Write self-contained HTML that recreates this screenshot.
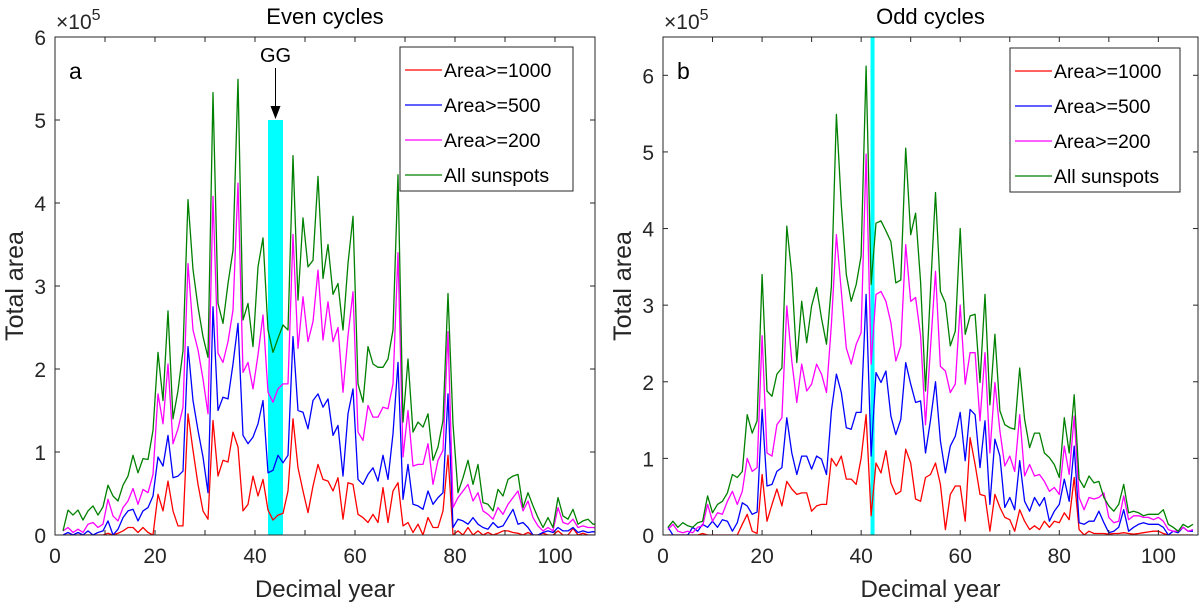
<!DOCTYPE html>
<html><head><meta charset="utf-8"><style>
html,body{margin:0;padding:0;background:#fff;}
svg{display:block;font-family:"Liberation Sans",Arial,sans-serif;}
</style></head><body>
<svg id="chart" width="1200" height="612" viewBox="0 0 1200 612" xmlns="http://www.w3.org/2000/svg"></svg>
<script>
// ---- data (units of 1e5) ----
const xTicks = [0,20,40,60,80,100];
const yTicksEven = [0,1,2,3,4,5,6];
const yTicksOdd = [0,1,2,3,4,5,6];
const seriesNames = ["Area>=1000","Area>=500","Area>=200","All sunspots"];
const seriesColors = ["#ff0000","#0000ff","#ff00ff","#008000"];
const evenStartYear = 1.6;
const oddStartYear = 1;
const evenRed = [0,0,0,0,0,0,0,0,0,0.02, 0,0.02,0.05,0.09,0.09,0.03,0.09,0.03,0,0.49, 0.29,0.65,0.29,0.11,0.11,1.46,1.02,0.61,0.29,0.19, 1.38,0.71,0.9,0.88,1.24,1.06,0.29,0.37,0.71,0.47, 0.67,0.3,0.18,0.24,0.26,0.53,1.4,0.81,0.53,0.27, 0.59,0.85,0.67,0.65,0.53,0.69,0.19,0.63,0.61,0.25, 0.21,0.15,0.25,0.15,0.57,0.15,0.53,0.63,0.11,0.15, 0.03,0.13,0,0.21,0.09,0.09,0.29,0.96,0,0.05, 0,0.09,0,0.05,0,0.03,0,0.02,0.05,0.05, 0.03,0.02,0,0.03,0,0,0.02,0,0,0.05, 0,0,0.08,0,0.02,0,0,0];
const evenBlue = [0,0.03,0,0.03,0,0.05,0,0.03,0.05,0.17, 0,0.07,0.21,0.29,0.31,0.17,0.29,0.33,0.47,0.94, 0.83,1.2,0.69,0.71,0.77,2.27,1.62,1.26,0.94,0.51, 2.75,1.5,1.66,1.64,2.06,2.55,1.2,1.1,1.18,1.34, 1.62,0.75,0.78,0.96,0.87,0.96,2.39,1.5,1.48,1.28, 1.62,1.7,1.54,1.64,1.2,1.32,0.71,1.46,1.76,0.67, 0.61,0.73,0.81,0.65,0.96,0.67,1.22,2.08,0.43,0.85, 0.37,0.35,0.31,0.53,0.37,0.45,0.51,1.7,0.09,0.19, 0.17,0.13,0.21,0.13,0.09,0.07,0.15,0.09,0.11,0.21, 0.31,0.13,0.15,0.09,0,0,0.03,0.05,0.03,0.09, 0.05,0.05,0.09,0.03,0.05,0.03,0.04,0.03];
const evenMagenta = [0.05,0.09,0.03,0.07,0.03,0.13,0.15,0.09,0.13,0.43, 0.23,0.17,0.33,0.41,0.56,0.37,0.55,0.51,0.73,1.7, 1.34,2.06,1.1,1.28,1.54,3.27,2.47,2.23,1.88,1.46, 4.08,2.19,2.08,2.33,2.71,4.24,1.96,2.08,1.76,2.17, 2.65,1.72,1.6,1.76,1.82,1.82,3.62,2.25,2.87,2.33, 2.57,3.19,2.35,2.81,2.33,2.5,1.72,2.4,2.93,1.24, 1.14,1.56,1.42,1.42,1.54,1.52,1.82,3.4,0.94,1.5, 0.83,0.85,0.85,1.1,0.61,0.9,1.02,2.45,0.33,0.45, 0.53,0.61,0.41,0.51,0.29,0.25,0.19,0.33,0.25,0.37, 0.45,0.53,0.29,0.41,0.21,0.11,0.05,0.09,0.05,0.33, 0.15,0.13,0.19,0.09,0.11,0.09,0.09,0.08];
const evenGreen = [0.05,0.3,0.24,0.3,0.18,0.29,0.35,0.24,0.34,0.6, 0.47,0.41,0.6,0.71,0.96,0.75,0.92,0.91,1.26,2.2, 1.62,2.7,1.4,1.74,2.22,4.04,3.2,2.75,2.39,2.14, 5.33,2.79,2.55,3.03,3.43,5.49,2.59,2.79,2.27,3.23, 3.58,2.47,2.2,2.37,2.53,2.47,4.57,2.83,3.82,3.23, 3.31,4.32,3.09,3.5,2.9,3.03,2.47,3.27,3.84,1.82, 1.6,2.27,2.06,2.02,2.02,2.12,2.47,4.34,1.36,2.12, 1.24,1.36,1.3,1.46,0.9,1.06,1.38,2.91,1.34,0.51, 0.69,0.9,0.61,0.85,0.39,0.37,0.29,0.55,0.47,0.67, 0.71,0.73,0.33,0.51,0.35,0.21,0.09,0.21,0.09,0.45, 0.23,0.19,0.31,0.13,0.17,0.19,0.13,0.13];
const oddRed = [0,0,0,0,0,0,0,0.02,0,0, 0,0,0,0,0,0.14,0.27,0.05,0.02,0.79, 0.18,0.4,0.6,0.38,0.7,0.6,0.53,0.55,0.55,0.31, 0.38,0.4,0.4,1.0,0.9,1.03,0.73,0.73,0.66,1.0, 1.57,0.25,0.94,0.81,1.1,0.68,0.53,0.57,1.12,0.94, 0.47,0.44,0.75,0.79,0.94,0.66,0.07,0.53,0.64,0.64, 0.18,1.27,0.92,0.53,0.51,0.05,0.53,0.36,0.23,0.2, 0.05,0.33,0.18,0.07,0.12,0.07,0.18,0.1,0.18,0.16, 0.29,0.2,0.75,0.07,0,0.05,0.02,0.02,0.02,0.01, 0.02,0.02,0.03,0.02,0.01,0.02,0.03,0.04,0.05,0.05, 0.02,0,0,0,0,0,0];
const oddBlue = [0.1,0,0,0,0,0.1,0.05,0.14,0.1,0.18, 0.1,0.2,0.18,0.05,0.16,0.42,0.38,0.27,0.3,1.64, 0.64,0.66,0.83,0.88,1.53,1.07,0.79,1.03,1.03,0.86, 1.03,0.99,0.79,1.62,2.1,1.86,1.4,1.38,1.6,1.6, 3.14,1.03,2.12,1.99,2.14,1.55,1.31,1.51,2.25,1.97, 1.73,1.75,1.07,1.5,2.0,1.23,0.81,1.16,1.29,1.6, 0.97,1.64,1.57,0.88,1.49,0.4,1.25,1.03,0.36,0.49, 0.33,0.97,0.44,0.31,0.49,0.38,0.49,0.18,0.31,0.4, 0.73,0.44,1.16,0.16,0.14,0.18,0.18,0.31,0.16,0.03, 0.05,0.1,0.33,0.05,0.1,0.14,0.16,0.14,0.14,0.14, 0.1,0,0.05,0.03,0.1,0.05,0.05];
const oddMagenta = [0.07,0.14,0.05,0.03,0.05,0.03,0.1,0.12,0.4,0.18, 0.29,0.27,0.44,0.57,0.4,0.57,1.0,0.83,0.88,2.6, 1.07,1.03,1.44,1.53,2.99,2.27,1.73,2.23,1.88,1.97, 2.23,2.1,1.86,2.75,3.92,3.18,2.44,2.23,2.49,2.64, 4.97,2.23,3.14,3.18,3.05,2.77,2.27,2.47,3.79,3.05, 3.1,2.6,1.44,2.44,3.44,2.2,2.14,1.86,1.97,3.0, 1.97,2.38,2.38,1.49,2.38,1.07,1.99,1.36,0.9,1.03, 0.83,1.57,0.77,0.92,0.77,0.79,0.7,0.57,0.62,0.53, 1.16,0.79,1.55,0.49,0.33,0.49,0.47,0.49,0.55,0.23, 0.16,0.18,0.51,0.2,0.25,0.25,0.23,0.23,0.2,0.23, 0.18,0.07,0.05,0.05,0.1,0.05,0.07];
const oddGreen = [0.1,0.18,0.1,0.16,0.12,0.1,0.16,0.18,0.51,0.29, 0.4,0.44,0.55,0.79,0.75,0.83,1.57,1.33,1.49,3.4, 1.88,1.81,2.1,2.18,4.03,3.4,2.25,3.05,2.51,2.99, 3.23,2.83,2.49,3.25,5.49,4.31,3.4,3.05,3.27,3.64, 6.12,3.27,4.07,4.1,3.97,3.83,3.29,3.33,5.05,3.92, 4.2,3.3,1.88,3.2,4.47,3.18,3.03,2.47,2.66,4.0, 2.62,2.86,2.88,1.99,3.14,1.7,2.62,1.62,1.44,1.4, 1.38,2.18,1.51,1.14,1.33,1.33,1.07,1.01,0.92,0.75, 1.53,1.07,1.83,0.73,0.62,0.77,0.68,0.7,0.49,0.38, 0.31,0.4,0.66,0.29,0.31,0.29,0.25,0.27,0.27,0.27, 0.33,0.14,0.1,0.05,0.14,0.1,0.14];
const ggBand = [42.6, 45.6, 5.0];
const oddMarkYear = 42.3;

const NS = "http://www.w3.org/2000/svg";
const svg = document.getElementById("chart");
function mk(tag, attrs, parent){ const e=document.createElementNS(NS,tag); for(const k in attrs) e.setAttribute(k,attrs[k]); (parent||svg).appendChild(e); return e; }

function panel(p){
  const g = mk("g",{});
  
  
  const X = v => p.x0 + v * (p.x1 - p.x0) / 108;
  const Y = v => p.y0 - v * (p.y0 - p.y1) / p.ymax;
  const clipId = p.id+"-clip";
  const defs = mk("defs",{},g);
  const cp = mk("clipPath",{id:clipId},defs);
  mk("rect",{x:p.x0,y:p.y1,width:p.x1-p.x0,height:p.y0-p.y1},cp);
  const plot = mk("g",{"clip-path":"url(#"+clipId+")"},g);
  if(p.band){
    const r = mk("rect",{x:X(p.band[0]),y:Y(p.band[2]),width:X(p.band[1])-X(p.band[0]),height:Y(0)-Y(p.band[2]),fill:"#00ffff"},plot);
    
    
  }
  if(p.mark!==undefined){
    const r = mk("rect",{x:X(p.mark)-2,y:p.y1,width:4,height:p.y0-p.y1,fill:"#00ffff"},plot);
    
    
  }
  p.series.forEach((arr,si)=>{
    const pts = arr.map((v,i)=>X(p.start+i).toFixed(1)+","+Y(v).toFixed(1)).join(" ");
    const pl = mk("polyline",{points:pts,fill:"none",stroke:seriesColors[si],"stroke-width":1.3,"stroke-linejoin":"round"},plot);
    
    
  });
  const fr = mk("rect",{x:p.x0,y:p.y1,width:p.x1-p.x0,height:p.y0-p.y1,fill:"none",stroke:"#262626","stroke-width":1},g);
  
  
  for(let t=10;t<=100;t+=10){
    mk("line",{x1:X(t),x2:X(t),y1:p.y0,y2:p.y0-5,stroke:"#262626"},g);
    mk("line",{x1:X(t),x2:X(t),y1:p.y1,y2:p.y1+5,stroke:"#262626"},g);
  }
  xTicks.forEach(t=>{
    const tx = mk("text",{x:X(t),y:p.y0+28,"font-size":21,"text-anchor":"middle",fill:"#262626"},g);
    tx.textContent = t;
    
    
  });
  p.yTicks.forEach(t=>{
    if(t>0){
      mk("line",{x1:p.x0,x2:p.x0+5,y1:Y(t),y2:Y(t),stroke:"#262626"},g);
      mk("line",{x1:p.x1,x2:p.x1-5,y1:Y(t),y2:Y(t),stroke:"#262626"},g);
    }
    const ty = mk("text",{x:p.x0-9,y:Y(t)+8,"font-size":21,"text-anchor":"end",fill:"#262626"},g);
    ty.textContent = t;
    
    
  });
  const ex = mk("text",{x:p.x0+1,y:p.y1-8,"font-size":21,fill:"#262626"},g);
  ex.innerHTML = '×10<tspan dy="-9" font-size="16">5</tspan>';
  
  
  const ti = mk("text",{x:(p.x0+p.x1)/2,y:24,"font-size":22,"text-anchor":"middle",fill:"#000"},g);
  ti.textContent = p.title;
  
  
  const xl = mk("text",{x:(p.x0+p.x1)/2,y:597,"font-size":24,"text-anchor":"middle",fill:"#262626"},g);
  xl.textContent = "Decimal year";
  
  
  const yl = mk("text",{x:0,y:0,"font-size":25,"text-anchor":"middle",fill:"#262626",transform:"translate("+(p.x0-32)+","+((p.y0+p.y1)/2)+") rotate(-90)"},g);
  yl.textContent = "Total area";
  
  
  const pl = mk("text",{x:p.x0+14,y:p.y1+42,"font-size":23,fill:"#000"},g);
  pl.textContent = p.letter;
  
  
  const lg = mk("g",{},g);
  
  
  mk("rect",{x:p.lx,y:p.ly,width:p.lw,height:144,fill:"#fff",stroke:"#262626","stroke-width":1},lg);
  seriesNames.forEach((n,i)=>{
    const yy = p.ly+23+i*35;
    const e = mk("g",{},lg);
    
    
    mk("line",{x1:p.lx+5,x2:p.lx+42,y1:yy,y2:yy,stroke:seriesColors[i],"stroke-width":1.3},e);
    const t = mk("text",{x:p.lx+44,y:yy+7,"font-size":19.5,fill:"#000"},e);
    t.textContent = n;
  });
  return {X,Y,g};
}

const A = panel({id:"even",x0:55,x1:595,y0:535,y1:37,ymax:6,yTicks:yTicksEven,start:evenStartYear,
  series:[evenRed,evenBlue,evenMagenta,evenGreen],title:"Even cycles",letter:"a",lx:400,ly:47,lw:173,band:ggBand});
const B = panel({id:"odd",x0:663,x1:1198,y0:535,y1:37,ymax:6.5,yTicks:yTicksOdd,start:oddStartYear,
  series:[oddRed,oddBlue,oddMagenta,oddGreen],title:"Odd cycles",letter:"b",lx:1010,ly:48,lw:170,mark:oddMarkYear});

const gx = A.X((ggBand[0]+ggBand[1])/2);
const gg = mk("text",{x:gx,y:62,"font-size":20,"text-anchor":"middle",fill:"#000"});
gg.textContent = "GG";


const ar = mk("line",{x1:gx,x2:gx,y1:68,y2:A.Y(ggBand[2])-2,stroke:"#000","stroke-width":1});


const ah = mk("polygon",{points:(gx-5)+","+(A.Y(ggBand[2])-14)+" "+(gx+5)+","+(A.Y(ggBand[2])-14)+" "+gx+","+(A.Y(ggBand[2])-1),fill:"#000"});


</script>
</body></html>
